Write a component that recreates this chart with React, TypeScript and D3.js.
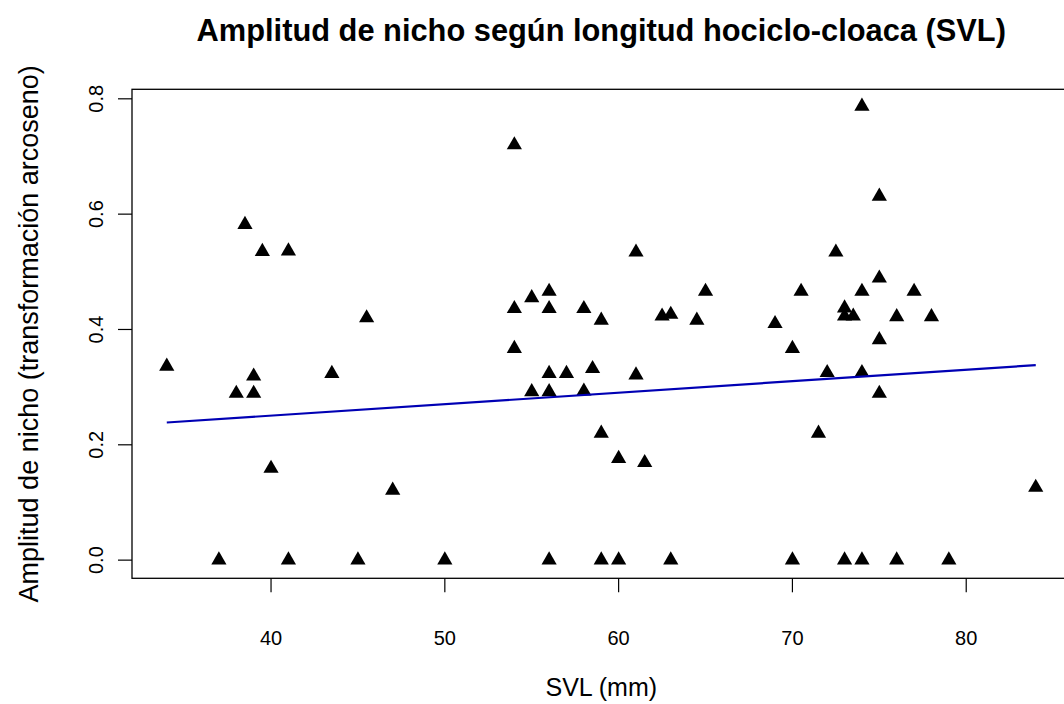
import React from "react";
import * as d3 from "d3";

// SVL (mm) values
const svl: number[] = [
  37, 41, 45, 50, 56, 59, 60, 63, 70, 73, 74, 76, 79,
  34, 38, 38.5, 39, 39, 39.5, 40, 41, 43.5, 45.5, 47,
  54, 54, 54, 55, 55, 56, 56, 56, 56, 57, 58, 58, 58.5, 59, 59, 60, 61, 61, 61.5,
  62.5, 63, 64.5, 65, 69, 70, 70.5, 71.5, 72, 72.5, 73, 73, 73.5,
  74, 74, 74, 75, 75, 75, 75, 76, 77, 78, 84,
];
// Niche breadth (arcsine transformed)
const amplitud: number[] = [
  0, 0, 0, 0, 0, 0, 0, 0, 0, 0, 0, 0, 0,
  0.336, 0.289, 0.582, 0.319, 0.289, 0.535, 0.159, 0.536, 0.3235, 0.42, 0.121,
  0.72, 0.436, 0.367, 0.455, 0.292, 0.466, 0.436, 0.3235, 0.292, 0.3235, 0.436, 0.293, 0.332, 0.416, 0.22, 0.176, 0.534, 0.321, 0.169,
  0.423, 0.426, 0.416, 0.466, 0.41, 0.367, 0.466, 0.22, 0.325, 0.534, 0.437, 0.423, 0.423,
  0.787, 0.466, 0.325, 0.631, 0.489, 0.382, 0.289, 0.422, 0.466, 0.422, 0.126,
];
// Fitted regression line
const fitIntercept = 0.171;
const fitSlope = 0.00199;

const xTicks = [40, 50, 60, 70, 80];
const yTicks = [0, 0.2, 0.4, 0.6, 0.8];

const title = "Amplitud de nicho según longitud hociclo-cloaca (SVL)";
const xLabel = "SVL (mm)";
const yLabel = "Amplitud de nicho (transformación arcoseno)";

export default function App() {
  const W = 1064, H = 704;
  const left = 132, right = 1070.5, top = 89.3, bottom = 578.3;
  const x = d3.scaleLinear().domain([32, 86]).range([left, right]);
  const y = d3.scaleLinear().domain([-0.0315, 0.8165]).range([bottom, top]);
  const tri = d3.symbol().type(d3.symbolTriangle).size(100)();
  const xmin = d3.min(svl) as number;
  const xmax = d3.max(svl) as number;
  const line = d3.line<number>().x((d) => x(d)).y((d) => y(fitIntercept + fitSlope * d));
  const font = "Liberation Sans, Arial, Helvetica, sans-serif";
  return (
    <svg width={W} height={H} style={{ position: "absolute", left: 0, top: 0, background: "#fff" }} fontFamily={font}>
      <rect x={0} y={0} width={W} height={H} fill="#fff" />
      <text x={(left + right) / 2} y={41} textAnchor="middle" fontWeight="bold" fontSize={30.8} fill="#000">{title}</text>
      <rect x={left} y={top} width={right - left} height={bottom - top} fill="none" stroke="#000" strokeWidth={1.3} />
      {xTicks.map((t) => (
        <g key={"x" + t}>
          <line x1={x(t)} x2={x(t)} y1={bottom} y2={bottom + 14} stroke="#000" strokeWidth={1.2} />
          <text x={x(t)} y={645} textAnchor="middle" fontSize={20} fill="#000">{t}</text>
        </g>
      ))}
      {yTicks.map((t) => (
        <g key={"y" + t}>
          <line x1={left - 14} x2={left} y1={y(t)} y2={y(t)} stroke="#000" strokeWidth={1.2} />
          <text transform={`translate(103,${y(t)}) rotate(-90)`} textAnchor="middle" fontSize={20} fill="#000">{t.toFixed(1)}</text>
        </g>
      ))}
      <text x={(left + right) / 2} y={696} textAnchor="middle" fontSize={25} fill="#000">{xLabel}</text>
      <text transform={`translate(38,${(top + bottom) / 2}) rotate(-90)`} textAnchor="middle" fontSize={27} fill="#000">{yLabel}</text>
      {svl.map((v, i) => (
        <path key={i} d={tri as string} transform={`translate(${x(v)},${y(amplitud[i])})`} fill="#000" />
      ))}
      <path d={line([xmin, xmax]) as string} fill="none" stroke="#0000b4" strokeWidth={2.2} />
    </svg>
  );
}
